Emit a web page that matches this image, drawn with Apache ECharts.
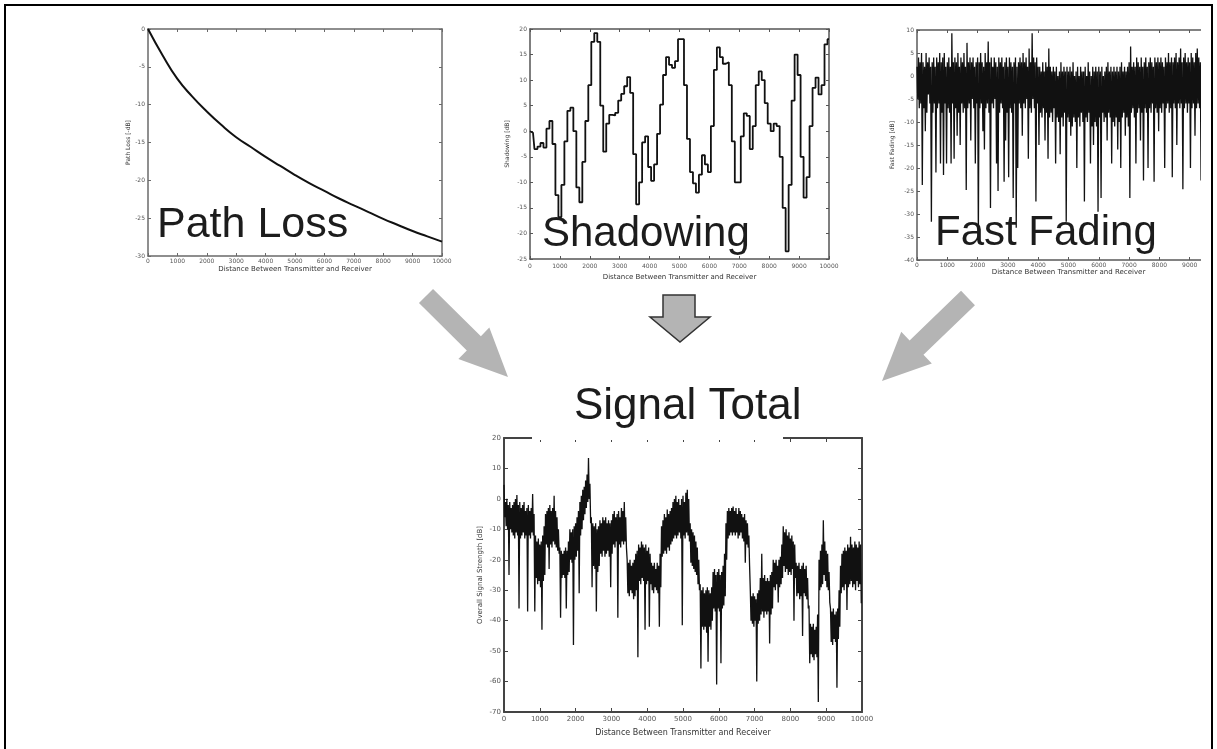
<!doctype html>
<html>
<head>
<meta charset="utf-8">
<script src="https://cdn.jsdelivr.net/npm/echarts@6/dist/echarts.min.js"></script>
<style>
  html, body { margin: 0; padding: 0; background: #fff; }
  #main { width: 1217px; height: 749px; }
</style>
</head>
<body>
<div id="main"></div>
<script>
// values (distance 0..10000)
var pathLossX = [0, 500, 1000, 1500, 2000, 2500, 3000, 3500, 4000, 4500, 5000,
                 5500, 6000, 6500, 7000, 7500, 8000, 8500, 9000, 9500, 10000];
var pathLossDb = [0, -3.5, -6.6, -8.9, -10.9, -12.7, -14.3, -15.6, -16.9, -18.1, -19.3,
                  -20.4, -21.4, -22.4, -23.3, -24.2, -25.1, -25.9, -26.7, -27.4, -28.1];

// one sample every 100
var shadowStep = 100;
var shadowDb = [
  0, -0.3, -3.5, -3, -2.3, -3.2, 0.5, 2, -2.5, -12.5,
  -16.8, -10.5, -2, 4, 4.6, 0, -11, -13.9, -6, 2,
  9, 17.5, 19.2, 17.5, 5, -4, 1.5, 3.2, 3.1, 3.6,
  6, 7.3, 8.8, 10.6, 7.5, -4.5, -14.3, -10, -2.2, -1,
  -7, -9.7, -6.5, -0.5, 5.2, 11, 14.5, 13, 12.4, 13.7,
  18, 18, 9, -1.5, -8, -10.2, -12, -8.5, -4.7, -6.5,
  -8, 1, 12, 16.4, 14.5, 13.2, 13.5, 9, -2, -10,
  -10, -1, 3.5, 3, -3.5, 1, 9, 11.7, 10, 5.5,
  1.5, 0, 1.5, 1, -5, -15, -23.5, -10.5, 6, 15,
  11, -5, -13, -9, 1, 8.5, 10.5, 7.2, 9, 17,
  18
];

// one sample every 25 (the trace swings top / bottom of the band each sample)
var fadingStep = 25;
var fadingDb = [
  2, -5, 4, -7, 3, -6, 5, -23.7, 3, -7,
  2, -12, 5, -8, 3, -4, 4, -6, 2, -31.7,
  3, -8, 4, -6, 2, -21, 4, -7, 3, -6,
  5, -19, 3, -8, 4, -21.5, 5, -6, 2, -19,
  3, -7, 4, -8, 2, -19, 9.3, -6, 3, -18,
  4, -7, 3, -13, 5, -8, 2, -15, 4, -6,
  3, -8, 5, -7, 2, -24.8, 7.2, -7, 3, -6,
  4, -14, 3, -5, 4, -7, 2, -19, 3, -6,
  4, -35.2, 3, -7, 5, -6, 3, -12, 2, -16,
  5, -7, 3, -6, 7.5, -8, 3, -28.7, 4, -6,
  2, -7, 4, -5, 3, -19, 2, -25, 4, -8,
  3, -6, 4, -7, 2, -23, 3, -14, 4, -8,
  2, -22, 4, -7, 3, -8, 2, -26.5, 3, -6,
  4, -33, 2, -20, 3, -6, 4, -7, 3, -13,
  5, -6, 3, -7, 4, -5, 2, -18, 6, -7,
  3, -8, 9.3, -5, 4, -7, 3, -27.3, 4, -6,
  2, -15, 2, -8, 1, -9, 3, -7, 1, -14,
  3, -8, 2, -18, 6, -9, 2, -8, 1, -10,
  2, -7, 1, -19, 2, -9, 0, -10, 1, -17,
  3, -9, 1, -11, 2, -8, 1, -31.7, 2, -9,
  1, -10, 2, -13, 1, -11, 3, -9, 0, -10,
  1, -20, 2, -9, 0, -11, 2, -8, 1, -10,
  1, -27.3, 2, -9, 0, -10, 3, -8, 1, -19,
  0, -11, 2, -15, 1, -10, 2, -11, 1, -29.5,
  2, -9, 1, -26.5, 2, -8, 0, -10, 1, -9,
  2, -14, 3, -8, 1, -9, 2, -19, 1, -10,
  2, -11, 1, -9, 2, -16, 1, -10, 2, -20,
  3, -9, 1, -8, 2, -13, 1, -9, 2, -11,
  3, -26.5, 6.4, -8, 2, -7, 3, -9, 2, -19,
  4, -8, 3, -7, 2, -14, 4, -8, 2, -22.7,
  3, -7, 4, -8, 2, -20, 3, -7, 4, -8,
  3, -6, 2, -23, 4, -7, 3, -8, 4, -12,
  3, -7, 4, -8, 3, -6, 2, -20, 4, -7,
  3, -6, 5, -8, 3, -7, 4, -22, 3, -6,
  4, -7, 5, -15, 3, -6, 4, -7, 6, -6,
  3, -24.6, 4, -7, 5, -6, 3, -8, 4, -6,
  3, -20, 5, -7, 4, -6, 3, -13, 5, -7,
  6, -6, 4, -7, 3, -22.7, 5, -6, 4, -7,
  3, -18, 5, -6, 4, -7, 5, -14, 3, -17,
  6, -6, 4, -7, 5, -6, 3, -20, 5, -6
];

// one sample every 20 (top / bottom of the band in turn)
var totalStep = 20;
var totalDb = [
  4.6, -6, -1, -9, 0, -10, -2, -25, -1, -10,
  -3, -11, -2, -12, -1, -13, 0, -11, 1.3, -12,
  -2, -36, -1, -13, -3, -12, -2, -11, -1, -13,
  -4, -12, -3, -37, -2, -12, -4, -13, -3, -11,
  1.6, -12, -5, -37, -12, -26, -14, -28, -13, -27,
  -15, -29, -14, -43, -12, -27, -9, -25, -5, -15,
  -4, -16, -3, -23, -2, -15, -4, -16, -3, -14,
  1, -15, -4, -16, -6, -17, -10, -18, -16, -39,
  -17, -26, -18, -25, -17, -26, -16, -36, -17, -25,
  -14, -24, -10, -20, -11, -21, -10, -48, -9, -20,
  -8, -19, -6, -17, -4, -31, -1, -12, 1, -10,
  3, -7, 4, -5, 6, -3, 8, -1, 13.4, 0,
  5, -8, -6, -29, -8, -22, -9, -23, -8, -37,
  -10, -24, -9, -22, -7, -18, -8, -19, -6, -17,
  -7, -19, -6, -18, -8, -17, -7, -19, -8, -29,
  -7, -18, -5, -15, -4, -16, -6, -14, -5, -39,
  -4, -15, -6, -16, -3, -14, -4, -15, -1, -14,
  -6, -16, -20, -31, -21, -32, -20, -30, -22, -31,
  -21, -33, -20, -32, -18, -30, -17, -52, -15, -27,
  -16, -28, -14, -26, -15, -27, -16, -43, -15, -28,
  -17, -27, -16, -42, -18, -28, -21, -30, -22, -31,
  -21, -29, -23, -30, -21, -31, -22, -42, -18, -29,
  -9, -19, -7, -18, -5, -17, -6, -18, -3.5, -16,
  -5, -17, -4, -15, -3, -14, -1, -13, 0, -12,
  1, -13, -1, -12, 0, -11, -2, -13, 0, -41.5,
  1, -12, -1, -13, 2, -11, 3, -12, 0, -14,
  -8, -21, -10, -22, -11, -23, -12, -24, -14, -25,
  -16, -28, -20, -30, -28, -55.7, -30, -42, -29, -43,
  -31, -42, -30, -44, -29, -53.5, -30, -42, -31, -43,
  -29, -40, -24, -36, -23, -37, -25, -61, -24, -36,
  -23, -37, -25, -54, -24, -36, -22, -35, -18, -32,
  -8, -20, -4, -13, -3, -12, -4, -11, -3, -12,
  -2.5, -11, -4, -12, -3, -11, -5, -13, -3, -12,
  -4, -11, -5, -13, -6, -14, -5, -21, -7, -15,
  -8, -16, -12, -22, -30, -40, -32, -41, -31, -42,
  -32, -40, -33, -60, -31, -41, -30, -40, -26, -38,
  -18, -37, -26, -39, -25, -37, -27, -38, -26, -37,
  -27, -47.5, -25, -38, -24, -36, -20, -29, -21, -30,
  -20, -28, -22, -34, -20, -29, -19, -28, -15, -26,
  -9, -22, -11, -24, -10, -23, -12, -25, -11, -24,
  -13, -25, -12, -23, -14, -40, -15, -26, -21, -32,
  -22, -31, -21, -33, -23, -32, -22, -45, -21, -31,
  -23, -32, -22, -33, -26, -36, -35, -54, -41, -51,
  -42, -52, -41, -53, -43, -51, -42, -52, -38, -66.7,
  -20, -30, -17, -29, -15, -28, -7, -25, -14, -27,
  -17, -29, -18, -30, -24, -34, -36, -47, -37, -48,
  -36, -46, -38, -47, -37, -62, -36, -46, -30, -42,
  -22, -31, -18, -29, -17, -30, -16, -28, -17, -36.5,
  -15, -29, -16, -28, -12.4, -27, -15, -29, -16, -28,
  -14, -30, -15, -27, -16, -29, -14, -28, -15, -34.3
];

var xName = 'Distance Between Transmitter and Receiver';

function stepped(vals, step) {
  var out = [];
  for (var i = 0; i < vals.length; i++) out.push([i * step, vals[i]]);
  return out;
}
function paired(xs, ys) {
  var out = [];
  for (var i = 0; i < xs.length; i++) out.push([xs[i], ys[i]]);
  return out;
}
function plain(v) { return String(v); }

var xAxes = [], yAxes = [];
// matlab style box: ticks inside on all four sides
function boxAxes(g, ymin, ymax, ystep, yName, o) {
  var line = {show: true, onZero: false, lineStyle: {color: o.color, width: o.width}};
  var tick = {show: true, inside: true, length: o.tick, lineStyle: {color: o.color, width: 1}};
  var lab = {fontFamily: 'DejaVu Sans', fontSize: o.font, color: '#555', formatter: plain};
  xAxes.push({type: 'value', gridIndex: g, min: 0, max: 10000, interval: 1000,
    axisLine: line, axisTick: tick, splitLine: {show: false},
    axisLabel: Object.assign({margin: o.xMargin}, lab),
    name: xName, nameLocation: 'middle', nameGap: o.xGap,
    nameTextStyle: {fontFamily: 'DejaVu Sans', fontSize: o.nameFont, color: '#333'}});
  xAxes.push({type: 'value', gridIndex: g, position: 'top', min: 0, max: 10000, interval: 1000,
    axisLine: line, axisTick: tick, splitLine: {show: false}, axisLabel: {show: false}});
  yAxes.push({type: 'value', gridIndex: g, min: ymin, max: ymax, interval: ystep,
    axisLine: line, axisTick: tick, splitLine: {show: false},
    axisLabel: Object.assign({margin: 3}, lab),
    name: yName, nameLocation: 'middle', nameGap: o.yGap,
    nameTextStyle: {fontFamily: 'DejaVu Sans', fontSize: o.yNameFont, color: '#333'}});
  yAxes.push({type: 'value', gridIndex: g, position: 'right', min: ymin, max: ymax, interval: ystep,
    axisLine: line, axisTick: tick, splitLine: {show: false}, axisLabel: {show: false}});
}

boxAxes(0, -30, 0, 5, 'Path Loss [-dB]',
  {color: '#6a6a6a', width: 1.5, tick: 3, font: 6, xMargin: 2, xGap: 10, nameFont: 7, yGap: 17, yNameFont: 6});
boxAxes(1, -25, 20, 5, 'Shadowing [dB]',
  {color: '#555', width: 1.5, tick: 3, font: 6, xMargin: 4, xGap: 15, nameFont: 7, yGap: 20, yNameFont: 6});
boxAxes(2, -40, 10, 5, 'Fast Fading [dB]',
  {color: '#5a5a5a', width: 1.5, tick: 3, font: 6, xMargin: 2, xGap: 9, nameFont: 7, yGap: 22, yNameFont: 6});
boxAxes(3, -70, 20, 10, 'Overall Signal Strength [dB]',
  {color: '#444', width: 2, tick: 4, font: 7, xMargin: 4, xGap: 17, nameFont: 8, yGap: 20, yNameFont: 7});

function arrowPts(tx, ty, px, py, sw, hw, hl) {
  var dx = px - tx, dy = py - ty, len = Math.sqrt(dx * dx + dy * dy);
  var ux = dx / len, uy = dy / len, nx = -uy, ny = ux;
  var bx = px - ux * hl, by = py - uy * hl;
  return [[tx + nx * sw, ty + ny * sw], [bx + nx * sw, by + ny * sw], [bx + nx * hw, by + ny * hw],
          [px, py], [bx - nx * hw, by - ny * hw], [bx - nx * sw, by - ny * sw], [tx - nx * sw, ty - ny * sw]];
}

var bigFont = {fontFamily: 'Liberation Sans', fontSize: 42, fill: '#1c1c1c', align: 'left', verticalAlign: 'top',
               textAlign: 'left', textVerticalAlign: 'top'};
function bigText(t, x, y, size) {
  return {type: 'text', z: 150, style: Object.assign({}, bigFont, {text: t, x: x, y: y, fontSize: size || 42})};
}

var graphics = [
  // hide the part of the fast fading panel that falls off the page
  {type: 'rect', z: 120, shape: {x: 1201, y: 12, width: 16, height: 280}, style: {fill: '#fff'}},
  // the title box covers the top edge of the lower panel
  {type: 'rect', z: 120, shape: {x: 532, y: 434.5, width: 251, height: 5.5}, style: {fill: '#fff'}},
  bigText('Path Loss', 157, 204, 43),
  bigText('Shadowing', 542, 213),
  bigText('Fast Fading', 935, 212),
  bigText('Signal Total', 574, 385, 44),
  {type: 'polygon', z: 110, shape: {points: arrowPts(426, 296, 508, 377, 10, 22, 48)}, style: {fill: '#b4b4b4'}},
  {type: 'polygon', z: 110, shape: {points: arrowPts(968, 298, 882, 381, 10, 22, 48)}, style: {fill: '#b4b4b4'}},
  {type: 'polygon', z: 110, shape: {points: [[663, 295], [695, 295], [695, 317], [710, 317], [680, 342], [650, 317], [663, 317]]},
    style: {fill: '#b4b4b4', stroke: '#333', lineWidth: 1.5}},
  // page frame
  {type: 'line', z: 200, shape: {x1: 4, y1: 5, x2: 1213, y2: 5}, style: {stroke: '#000', lineWidth: 2}},
  {type: 'line', z: 200, shape: {x1: 5, y1: 4, x2: 5, y2: 749}, style: {stroke: '#000', lineWidth: 2}},
  {type: 'line', z: 200, shape: {x1: 1212, y1: 4, x2: 1212, y2: 749}, style: {stroke: '#000', lineWidth: 2}}
];

function lineSeries(g, data, w, extra) {
  return Object.assign({type: 'line', xAxisIndex: g * 2, yAxisIndex: g * 2, data: data,
    showSymbol: false, symbol: 'none', lineStyle: {color: '#111', width: w}}, extra || {});
}

var myChart = echarts.init(document.getElementById('main'));
var option = {
  animation: false,
  backgroundColor: '#fff',
  grid: [
    {left: 148, top: 29, width: 294, height: 227, outerBoundsMode: 'none', containLabel: false},
    {left: 530, top: 29, width: 299, height: 230, outerBoundsMode: 'none', containLabel: false},
    {left: 917, top: 30, width: 303, height: 230, outerBoundsMode: 'none', containLabel: false},
    {left: 504, top: 438, width: 358, height: 274, outerBoundsMode: 'none', containLabel: false}
  ],
  xAxis: xAxes,
  yAxis: yAxes,
  series: [
    lineSeries(0, paired(pathLossX, pathLossDb), 2, {smooth: true}),
    lineSeries(1, stepped(shadowDb, shadowStep), 1.8, {step: 'middle'}),
    lineSeries(2, stepped(fadingDb, fadingStep), 1.3),
    lineSeries(3, stepped(totalDb, totalStep), 1.3)
  ],
  graphic: graphics
};
myChart.setOption(option);
</script>
</body>
</html>
